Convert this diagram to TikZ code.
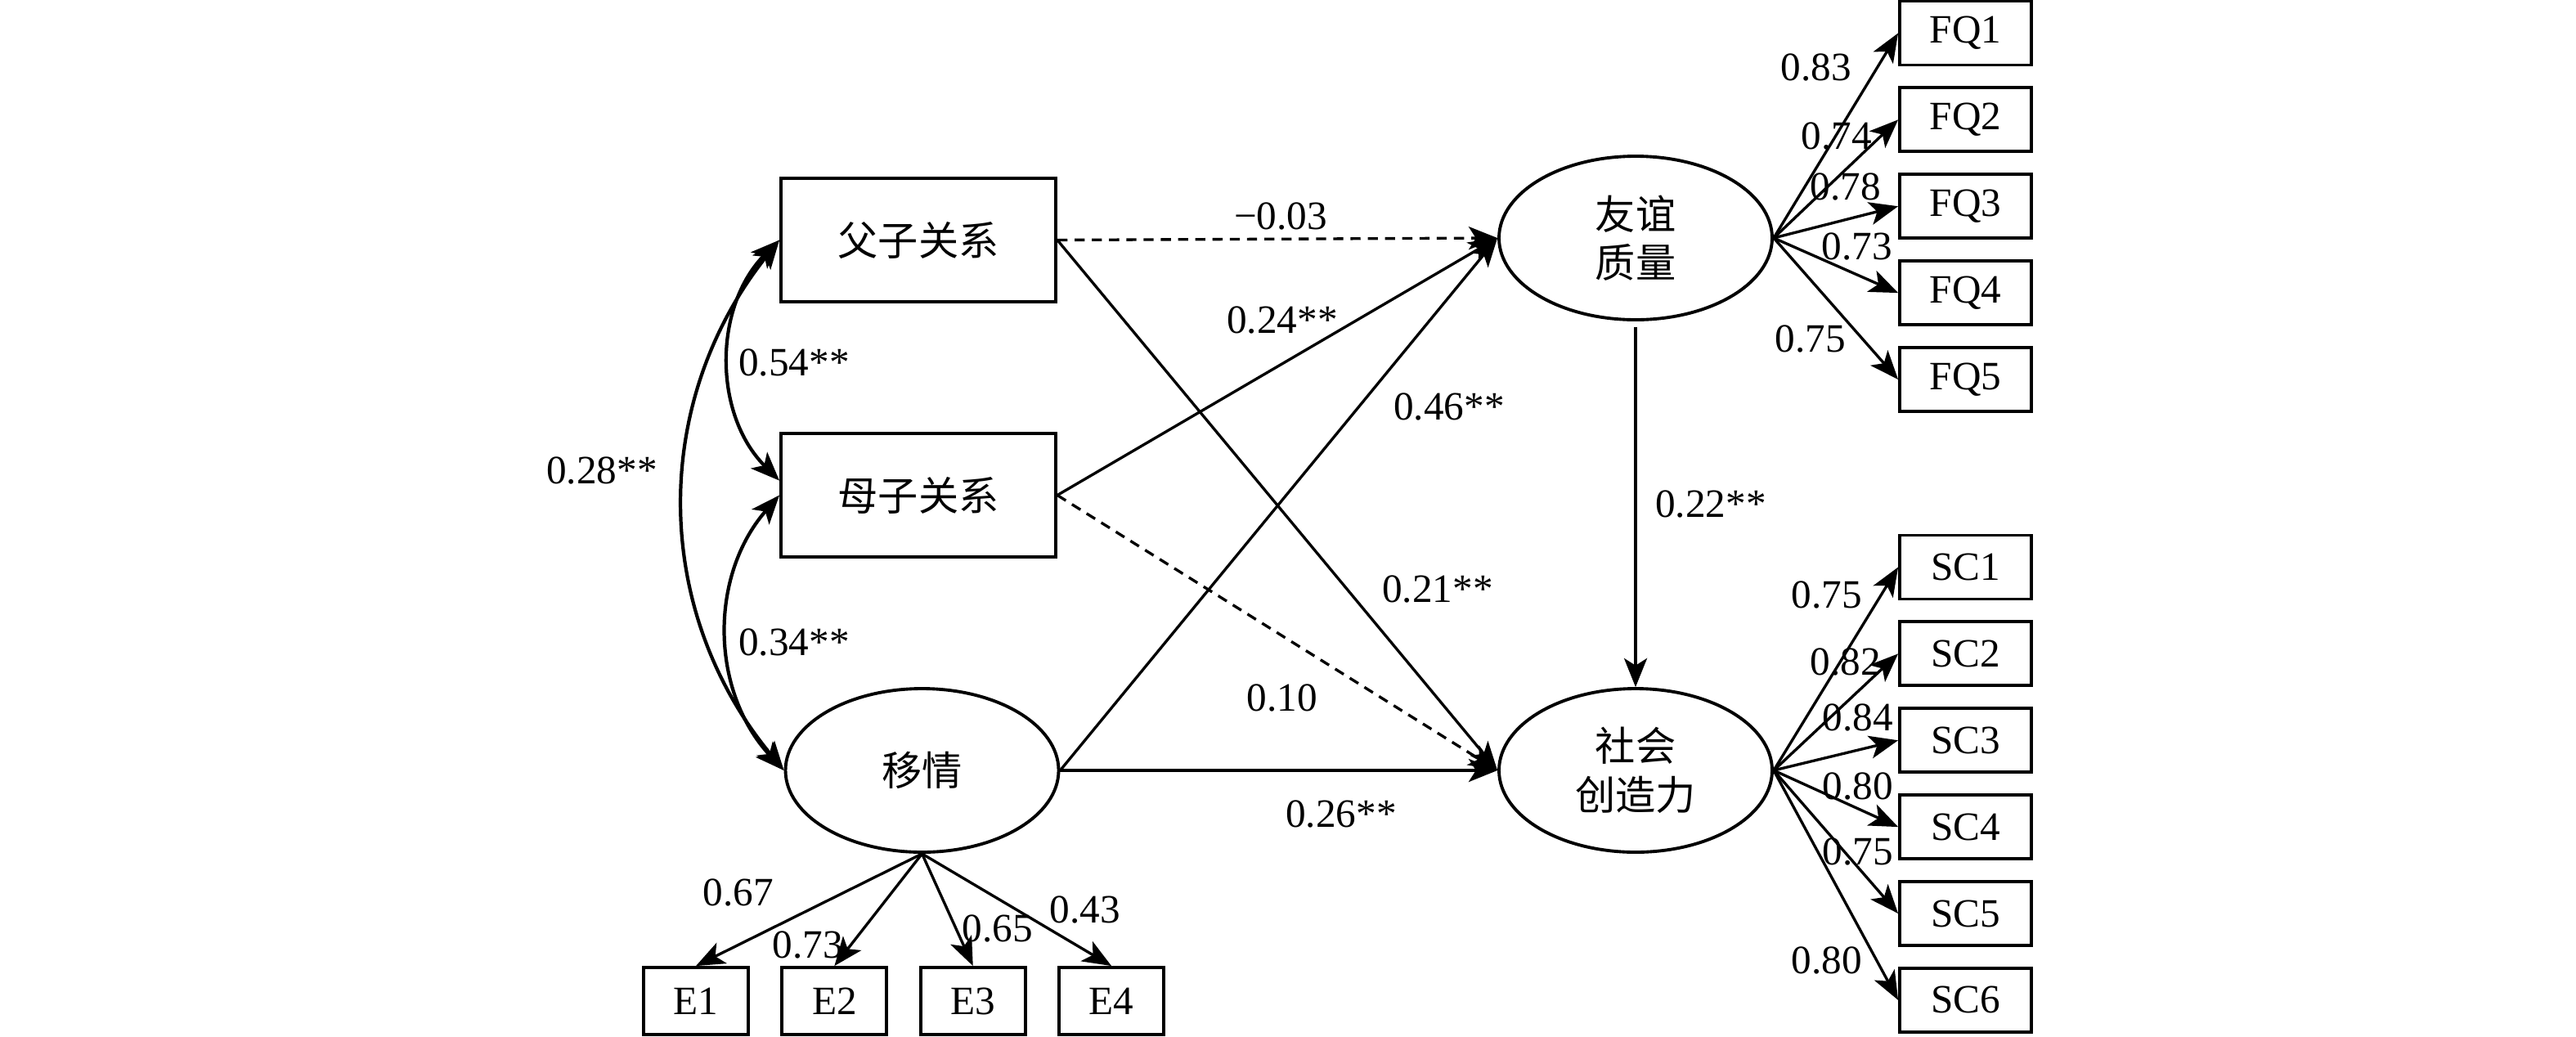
\documentclass[tikz,border=0pt]{standalone}
\usepackage{fontspec}
\setmainfont{Liberation Serif}
\newfontfamily\cjk{Noto Sans CJK SC}
\usepackage{tikz}
\usetikzlibrary{positioning,shapes,arrows.meta}
\tikzset {
    style A/.style={
        draw=black,
        line width=1.1pt,
        rectangle, % Set the shape as a rectangle
        minimum width=3.36cm,
        minimum height=1.51cm,
        align=center,
        font=\fontsize{14}{17}\selectfont\cjk,
    },
    style B/.style={
        draw=black,
        line width=1.1pt,
        ellipse, % Set the shape as an ellipse
        inner sep=0pt,
        minimum width=3.34cm,
        minimum height=2cm,
        align=center,
        font=\fontsize{14}{17}\selectfont\cjk,
    },
    style C/.style={
        draw=black,
        line width=1.1pt,
        rectangle, % Set the shape as a rectangle
        minimum width=1.61cm,
        minimum height=0.78cm,
        align=center,
    },
    style D/.style={
        inner sep=0pt,
    },
    style E/.style={line width=0.95pt, -{Stealth[length=10pt,width=8pt,inset=2.5pt]}},
    style F/.style={style E, dash pattern=on 3.5pt off 2.5pt},
    style G/.style={line width=1.2pt, {Stealth[length=10pt,width=8pt,inset=2.5pt]}-{Stealth[length=10pt,width=8pt,inset=2.5pt]}},
}

\begin{document}
\begin{tikzpicture}[font=\fontsize{14}{17}\selectfont]
        \useasboundingbox (0,0) rectangle (31.5,-12.67);

        % constructs
        \node[style A] (fa) at (11.23,-2.935) {父子关系};
        \node[style A] (mo) at (11.23,-6.055) {母子关系};
        \node[style B] (em) at (11.275,-9.42) {移情};
        \node[style B] (fq) at (20,-2.91) {友谊\\质量};
        \node[style B] (sc) at (20,-9.42) {社会\\创造力};

        % indicators
        \node[style C] (FQ1) at (24.035,-0.405) {FQ1};
        \node[style C, below=0.24cm of FQ1] (FQ2) {FQ2};
        \node[style C, below=0.24cm of FQ2] (FQ3) {FQ3};
        \node[style C, below=0.24cm of FQ3] (FQ4) {FQ4};
        \node[style C, below=0.24cm of FQ4] (FQ5) {FQ5};

        \node[style C] (SC1) at (24.035,-6.935) {SC1};
        \node[style C, below=0.24cm of SC1] (SC2) {SC2};
        \node[style C, below=0.24cm of SC2] (SC3) {SC3};
        \node[style C, below=0.24cm of SC3] (SC4) {SC4};
        \node[style C, below=0.24cm of SC4] (SC5) {SC5};
        \node[style C, below=0.24cm of SC5] (SC6) {SC6};

        \node[style C, minimum width=1.28cm, minimum height=0.82cm] (E1) at (8.51,-12.24) {E1};
        \node[style C, minimum width=1.28cm, minimum height=0.82cm, right=0.375cm of E1] (E2) {E2};
        \node[style C, minimum width=1.28cm, minimum height=0.82cm, right=0.375cm of E2] (E3) {E3};
        \node[style C, minimum width=1.28cm, minimum height=0.82cm, right=0.375cm of E3] (E4) {E4};

        % correlations
        \draw[style G] (fa.west) to[bend right=45] (mo.174);
        \draw[style G] (mo.west) to[bend right=42] (em.west);
        \draw[style G] (fa.west) to[bend right=39] (em.west);

        % paths
        \draw[style F] (fa.east) -- (fq.west);
        \draw[style E] (fa.east) -- (sc.west);
        \draw[style E] (mo.east) -- (fq.west);
        \draw[style F] (mo.east) -- (sc.west);
        \draw[style E] (em.east) -- (fq.west);
        \draw[style E] (em.east) -- (sc.west);
        \draw[style E, shorten <=2pt] (fq.south) -- (sc.north);

        % loadings
        \draw[style E] (em.south) -- (E1.north);
        \draw[style E] (em.south) -- (E2.north);
        \draw[style E] (em.south) -- (E3.north);
        \draw[style E] (em.south) -- (E4.north);

        \draw[style E] (fq.east) -- (FQ1.west);
        \draw[style E] (fq.east) -- (FQ2.west);
        \draw[style E] (fq.east) -- (FQ3.west);
        \draw[style E] (fq.east) -- (FQ4.west);
        \draw[style E] (fq.east) -- (FQ5.west);

        \draw[style E] (sc.east) -- (SC1.west);
        \draw[style E] (sc.east) -- (SC2.west);
        \draw[style E] (sc.east) -- (SC3.west);
        \draw[style E] (sc.east) -- (SC4.west);
        \draw[style E] (sc.east) -- (SC5.west);
        \draw[style E] (sc.east) -- (SC6.west);

        % coefficients
        \node[style D] (r054) at (9.71,-4.43)  {0.54**};
        \node[style D] (r034) at (9.71,-7.85)  {0.34**};
        \node[style D] (r028) at (7.36,-5.75)  {0.28**};
        \node[style D] (p003) at (15.66,-2.64) {−0.03};
        \node[style D] (p024) at (15.68,-3.91) {0.24**};
        \node[style D] (p046) at (17.72,-4.97) {0.46**};
        \node[style D] (p021) at (17.58,-7.20) {0.21**};
        \node[style D] (p010) at (15.68,-8.53) {0.10};
        \node[style D] (p026) at (16.40,-9.95) {0.26**};
        \node[style D] (p022) at (20.92,-6.16) {0.22**};

        \node[style D] (e1) at (9.03,-10.91)  {0.67};
        \node[style D] (e2) at (9.88,-11.55)  {0.73};
        \node[style D] (e3) at (12.20,-11.35) {0.65};
        \node[style D] (e4) at (13.27,-11.12) {0.43};

        \node[style D] (f1) at (22.21,-0.82) {0.83};
        \node[style D] (f2) at (22.46,-1.66) {0.74};
        \node[style D] (f3) at (22.57,-2.28) {0.78};
        \node[style D] (f4) at (22.71,-3.01) {0.73};
        \node[style D] (f5) at (22.14,-4.14) {0.75};

        \node[style D] (s1) at (22.34,-7.27)  {0.75};
        \node[style D] (s2) at (22.57,-8.09)  {0.82};
        \node[style D] (s3) at (22.72,-8.77)  {0.84};
        \node[style D] (s4) at (22.72,-9.61)  {0.80};
        \node[style D] (s5) at (22.72,-10.41) {0.75};
        \node[style D] (s6) at (22.34,-11.74) {0.80};
    \end{tikzpicture}
\end{document}
